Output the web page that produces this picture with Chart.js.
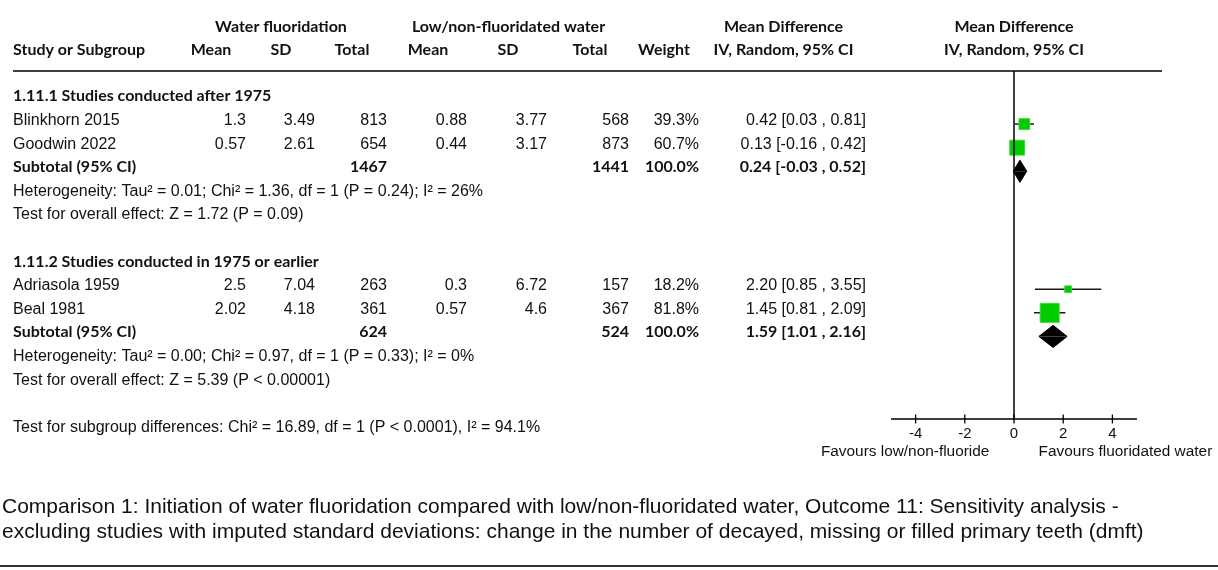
<!DOCTYPE html>
<html>
<head>
<meta charset="utf-8">
<script src="https://cdn.jsdelivr.net/npm/chart.js@4.4.1/dist/chart.umd.min.js"></script>
<style>
  html, body { margin: 0; padding: 0; background: #ffffff; }
  canvas { display: block; }
</style>
</head>
<body>
<canvas id="forest" width="1218" height="570"></canvas>
<script>
// ---- study-level data ----
const studies     = ['Blinkhorn 2015', 'Goodwin 2022', 'Adriasola 1959', 'Beal 1981'];
const studyGroup  = [0, 0, 1, 1];
const fluorMean   = [1.3, 0.57, 2.5, 2.02];
const fluorSD     = [3.49, 2.61, 7.04, 4.18];
const fluorTotal  = [813, 654, 263, 361];
const lowMean     = [0.88, 0.44, 0.3, 0.57];
const lowSD       = [3.77, 3.17, 6.72, 4.6];
const lowTotal    = [568, 873, 157, 367];
const weights     = [39.3, 60.7, 18.2, 81.8];
const meanDiff    = [0.42, 0.13, 2.20, 1.45];
const ciLow       = [0.03, -0.16, 0.85, 0.81];
const ciHigh      = [0.81, 0.42, 3.55, 2.09];

// ---- subgroup-level data ----
const groupNames      = ['1.11.1 Studies conducted after 1975', '1.11.2 Studies conducted in 1975 or earlier'];
const groupFluorTotal = [1467, 624];
const groupLowTotal   = [1441, 524];
const groupWeight     = [100.0, 100.0];
const groupMd         = [0.24, 1.59];
const groupLo         = [-0.03, 1.01];
const groupHi         = [0.52, 2.16];
const groupHeterogeneity = [
  'Heterogeneity: Tau\u00B2 = 0.01; Chi\u00B2 = 1.36, df = 1 (P = 0.24); I\u00B2 = 26%',
  'Heterogeneity: Tau\u00B2 = 0.00; Chi\u00B2 = 0.97, df = 1 (P = 0.33); I\u00B2 = 0%'
];
const groupOverall = [
  'Test for overall effect: Z = 1.72 (P = 0.09)',
  'Test for overall effect: Z = 5.39 (P < 0.00001)'
];
const subgroupDifferences = 'Test for subgroup differences: Chi\u00B2 = 16.89, df = 1 (P < 0.0001), I\u00B2 = 94.1%';

// ---- axis and labels ----
const xTicks       = [-4, -2, 0, 2, 4];
const favoursLeft  = 'Favours low/non-fluoride';
const favoursRight = 'Favours fluoridated water';
const captionLines = [
  'Comparison 1: Initiation of water fluoridation compared with low/non-fluoridated water, Outcome 11: Sensitivity analysis -',
  'excluding studies with imputed standard deviations: change in the number of decayed, missing or filled primary teeth (dmft)'
];

// ---- row layout (one row index per text line) ----
const headingRow = [], subtotalRow = [], hetRow = [], overallRow = [], studyRow = [];
let row = 0;
groupNames.forEach((name, g) => {
  headingRow[g] = row++;
  studies.forEach((s, i) => { if (studyGroup[i] === g) studyRow[i] = row++; });
  subtotalRow[g] = row++;
  hetRow[g] = row++;
  overallRow[g] = row++;
  row++;
});
const diffRow = row;

const fmt2 = v => v.toFixed(2);
const ciText = (m, lo, hi) => fmt2(m) + ' [' + fmt2(lo) + ' , ' + fmt2(hi) + ']';

// square side grows with study weight
const markerSide = w => 3.2 + 0.193 * w;
const DIAMOND_HALF = 0.47;   // half height of pooled diamonds, in rows

const GREEN = '#00cc00';
const INK = '#111111';
const HEAD_FONT = 'bold 16px Lato';
const BODY_FONT = '16px "Liberation Sans"';
const BOLD_FONT = 'bold 16px Lato';

// ---- datasets ----
const datasets = [];
datasets.push({
  label: 'studies',
  data: studies.map((s, i) => ({ x: meanDiff[i], y: studyRow[i] })),
  pointStyle: 'rect',
  pointRadius: c => markerSide(weights[c.dataIndex]) / Math.SQRT2,
  backgroundColor: GREEN,
  borderColor: '#3fd63f',
  borderWidth: 1,
  showLine: false,
  order: 0
});
studies.forEach((s, i) => {
  datasets.push({
    label: s + ' CI',
    data: [{ x: ciLow[i], y: studyRow[i] }, { x: ciHigh[i], y: studyRow[i] }],
    showLine: true,
    pointRadius: 0,
    borderColor: '#1a1a1a',
    borderWidth: 1.5,
    order: 2
  });
});
groupNames.forEach((name, g) => {
  const r = subtotalRow[g];
  [-DIAMOND_HALF, DIAMOND_HALF].forEach(dh => {
    datasets.push({
      label: name + ' pooled',
      data: [{ x: groupLo[g], y: r }, { x: groupMd[g], y: r + dh }, { x: groupHi[g], y: r }],
      showLine: true,
      pointRadius: 0,
      borderColor: '#000000',
      backgroundColor: '#000000',
      borderWidth: 1,
      fill: { value: r },
      order: 1
    });
  });
});

// ---- text, reference line, axis and caption ----
const forestText = {
  id: 'forestText',
  afterDatasetsDraw(chart) {
    const ctx = chart.ctx;
    const xs = chart.scales.x, ys = chart.scales.y;
    const base = i => ys.getPixelForValue(i) + 1;
    const area = chart.chartArea;
    const zeroX = xs.getPixelForValue(0);

    const text = (str, x, y, font, align) => {
      ctx.font = font;
      ctx.textAlign = align || 'left';
      ctx.textBaseline = 'alphabetic';
      ctx.fillStyle = INK;
      ctx.fillText(str, x, y);
    };

    ctx.save();

    // column headers
    text('Water fluoridation', 281, 31.5, HEAD_FONT, 'center');
    text('Low/non-fluoridated water', 508.5, 31.5, HEAD_FONT, 'center');
    text('Mean Difference', 783.5, 31.5, HEAD_FONT, 'center');
    text('Mean Difference', zeroX, 31.5, HEAD_FONT, 'center');
    text('Study or Subgroup', 13, 55, HEAD_FONT, 'left');
    text('Mean', 211, 55, HEAD_FONT, 'center');
    text('SD', 281, 55, HEAD_FONT, 'center');
    text('Total', 352, 55, HEAD_FONT, 'center');
    text('Mean', 428, 55, HEAD_FONT, 'center');
    text('SD', 508, 55, HEAD_FONT, 'center');
    text('Total', 590, 55, HEAD_FONT, 'center');
    text('Weight', 664, 55, HEAD_FONT, 'center');
    text('IV, Random, 95% CI', 783.5, 55, HEAD_FONT, 'center');
    text('IV, Random, 95% CI', zeroX, 55, HEAD_FONT, 'center');

    // header rule
    ctx.strokeStyle = '#000';
    ctx.lineWidth = 1.5;
    ctx.beginPath();
    ctx.moveTo(13, area.top);
    ctx.lineTo(1162, area.top);
    ctx.stroke();

    // study rows
    studies.forEach((s, i) => {
      const y = base(studyRow[i]);
      text(s, 13, y, BODY_FONT, 'left');
      text(String(fluorMean[i]), 246, y, BODY_FONT, 'right');
      text(String(fluorSD[i]), 315, y, BODY_FONT, 'right');
      text(String(fluorTotal[i]), 387, y, BODY_FONT, 'right');
      text(String(lowMean[i]), 467, y, BODY_FONT, 'right');
      text(String(lowSD[i]), 547, y, BODY_FONT, 'right');
      text(String(lowTotal[i]), 629, y, BODY_FONT, 'right');
      text(weights[i].toFixed(1) + '%', 699, y, BODY_FONT, 'right');
      text(ciText(meanDiff[i], ciLow[i], ciHigh[i]), 866, y, BODY_FONT, 'right');
    });

    // subgroup rows
    groupNames.forEach((name, g) => {
      text(name, 13, base(headingRow[g]), BOLD_FONT, 'left');
      const y = base(subtotalRow[g]);
      text('Subtotal (95% CI)', 13, y, BOLD_FONT, 'left');
      text(String(groupFluorTotal[g]), 387, y, BOLD_FONT, 'right');
      text(String(groupLowTotal[g]), 629, y, BOLD_FONT, 'right');
      text(groupWeight[g].toFixed(1) + '%', 699, y, BOLD_FONT, 'right');
      text(ciText(groupMd[g], groupLo[g], groupHi[g]), 866, y, BOLD_FONT, 'right');
      text(groupHeterogeneity[g], 13, base(hetRow[g]), BODY_FONT, 'left');
      text(groupOverall[g], 13, base(overallRow[g]), BODY_FONT, 'left');
    });
    text(subgroupDifferences, 13, base(diffRow), BODY_FONT, 'left');

    // line of no effect
    ctx.strokeStyle = '#000';
    ctx.lineWidth = 1.5;
    ctx.beginPath();
    ctx.moveTo(zeroX, area.top);
    ctx.lineTo(zeroX, area.bottom);
    ctx.stroke();

    // effect axis
    ctx.lineWidth = 1.3;
    ctx.beginPath();
    ctx.moveTo(xs.getPixelForValue(xs.min), area.bottom);
    ctx.lineTo(xs.getPixelForValue(xs.max), area.bottom);
    xTicks.forEach(t => {
      const px = xs.getPixelForValue(t);
      ctx.moveTo(px, area.bottom - 4.5);
      ctx.lineTo(px, area.bottom + 4.5);
    });
    ctx.stroke();
    xTicks.forEach(t => {
      text(String(t), xs.getPixelForValue(t), area.bottom + 18.5, '15px "Liberation Sans"', 'center');
    });
    text(favoursLeft, xs.getPixelForValue(-1), area.bottom + 36.5, '15.4px "Liberation Sans"', 'right');
    text(favoursRight, xs.getPixelForValue(1), area.bottom + 36.5, '15.4px "Liberation Sans"', 'left');

    // caption
    text(captionLines[0], 2, 513, '21px "Liberation Sans"', 'left');
    text(captionLines[1], 2, 538, '21px "Liberation Sans"', 'left');

    // bottom rule
    ctx.strokeStyle = '#333';
    ctx.lineWidth = 2;
    ctx.beginPath();
    ctx.moveTo(0, 566);
    ctx.lineTo(1218, 566);
    ctx.stroke();

    ctx.restore();
  }
};

new Chart(document.getElementById('forest'), {
  type: 'scatter',
  data: { datasets },
  options: {
    responsive: false,
    animation: false,
    events: [],
    devicePixelRatio: 1,
    layout: { padding: { left: 891, right: 81, top: 71, bottom: 151 } },
    scales: {
      x: { type: 'linear', min: -5, max: 5, display: false },
      y: { type: 'linear', min: -1.25, max: 13.5, reverse: true, display: false }
    },
    plugins: {
      legend: { display: false },
      tooltip: { enabled: false }
    }
  },
  plugins: [forestText]
});
</script>
</body>
</html>
